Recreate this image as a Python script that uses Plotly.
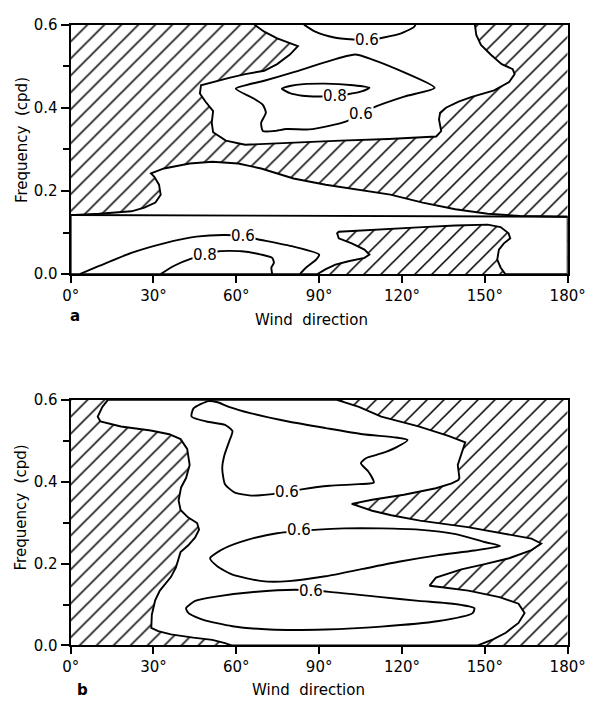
import plotly.graph_objects as go

# ---------------- data: (wind direction [deg], frequency [cpd]) ----------------
X_TICKS = [0, 30, 60, 90, 120, 150, 180]
X_TICKTEXT = ["0°", "30°", "60°", "90°", "120°", "150°", "180°"]
Y_TICKS = [0.0, 0.2, 0.4, 0.6]
Y_TICKTEXT = ["0.0", "0.2", "0.4", "0.6"]
Y_MINOR = [0.1, 0.3, 0.5]

# Panel a: non-hatched (coherent) regions
A_WHITE_UPPER = [(66.5, 0.6), (70.1, 0.583), (74.8, 0.567), (79.4, 0.555), (82.3, 0.548), (79.4, 0.528),
                 (74.8, 0.505), (70.1, 0.489), (63.2, 0.481), (57.4, 0.472), (51.6, 0.462), (47.2, 0.454),
                 (46.8, 0.434), (48.8, 0.415), (51.6, 0.392), (51.1, 0.364), (51.6, 0.341), (56.2, 0.321),
                 (63.2, 0.311), (70.1, 0.313), (80.5, 0.317), (97.8, 0.321), (115.1, 0.325), (132.4, 0.331),
                 (134.2, 0.344), (133.4, 0.372), (133.8, 0.388), (135.9, 0.4), (140.5, 0.415), (145.3, 0.426),
                 (153.4, 0.442), (158.8, 0.462), (160.8, 0.481), (160.1, 0.493), (156.1, 0.505), (152.1, 0.528),
                 (148.6, 0.551), (146.9, 0.575), (146.4, 0.6)]
A_WHITE_LOWER = [(0, 0), (0, 0.142), (10.3, 0.145), (22, 0.151), (26.7, 0.16), (30.7, 0.172), (32.6, 0.191),
                 (32, 0.215), (30.3, 0.234), (29.1, 0.242), (33.8, 0.254), (43.1, 0.266), (51.3, 0.27),
                 (60.7, 0.266), (69, 0.254), (80.7, 0.23), (92.4, 0.215), (104.1, 0.203), (115.8, 0.191),
                 (127.5, 0.172), (139.3, 0.156), (151, 0.145), (162.7, 0.140), (180, 0.138), (180, 0),
                 (157.4, 0), (155.7, 0.016), (154.5, 0.035), (155.1, 0.059), (156.9, 0.074), (159.2, 0.086),
                 (158.6, 0.098), (155.7, 0.113), (151, 0.119), (139.3, 0.117), (127.5, 0.113), (115.8, 0.109),
                 (104.1, 0.104), (97.1, 0.102), (96.5, 0.098), (97.1, 0.086), (101.8, 0.074), (106.4, 0.059),
                 (108.2, 0.047), (106.4, 0.039), (100.6, 0.031), (95.9, 0.023), (92.4, 0.012), (89.4, 0), (0, 0)]
A_BASELINE = [(0, 0.142), (180, 0.138)]
A_C06_TOP = [(84.5, 0.6), (88.6, 0.583), (95.5, 0.569), (102.4, 0.564), (107.5, 0.562), (113.4, 0.569),
             (119.7, 0.579), (124.3, 0.594), (124.9, 0.6)]
A_C06_MID = [(59.8, 0.446), (70.1, 0.465), (80.5, 0.485), (92, 0.509), (103, 0.528), (109.3, 0.516),
             (120.8, 0.485), (131.8, 0.448), (120.8, 0.427), (109.3, 0.4), (104.5, 0.384), (100.1, 0.368),
             (93.2, 0.356), (86.3, 0.348), (78.2, 0.349), (73.6, 0.344), (69.6, 0.344), (69, 0.364),
             (70.7, 0.388), (69.6, 0.407), (66.1, 0.423), (59.8, 0.446)]
A_C08_MID = [(76.5, 0.446), (81.7, 0.455), (92, 0.458), (102.4, 0.454), (108.2, 0.448), (104.7, 0.438),
             (96, 0.428), (89.7, 0.427), (83.9, 0.429), (79.4, 0.435), (76.5, 0.446)]
A_C06_LOW = [(3.3, 0), (10.3, 0.0195), (22, 0.051), (33.8, 0.074), (45.5, 0.090), (56, 0.094), (62, 0.091),
             (69, 0.082), (80.7, 0.066), (90, 0.047), (88.9, 0.035), (85.3, 0.016), (83, 0)]
A_C08_LOW = [(32.6, 0), (37.3, 0.0195), (43.7, 0.037), (48.8, 0.046), (53.7, 0.055), (61.9, 0.055),
             (69, 0.047), (73, 0.039), (73.6, 0.027), (72.7, 0.016), (73, 0)]
A_LABELS = [("0.6", 107.4, 0.562), ("0.8", 95.9, 0.428), ("0.6", 105.3, 0.384),
            ("0.6", 62.3, 0.091), ("0.8", 48.8, 0.045)]

# Panel b
B_WHITE = [(13.5, 0.6), (11.5, 0.583), (9.8, 0.559), (10.8, 0.547), (18.2, 0.535), (29.0, 0.525), (35.7, 0.516),
           (39.8, 0.504), (42.2, 0.480), (43.1, 0.441), (41.8, 0.409), (40.0, 0.386), (39.1, 0.354),
           (39.8, 0.331), (42.5, 0.313), (45.8, 0.299), (46.5, 0.283), (45.1, 0.264), (42.5, 0.244),
           (39.8, 0.228), (38.1, 0.19), (36.3, 0.167), (32.3, 0.134), (30.6, 0.110), (29.4, 0.075),
           (29.2, 0.043), (31.7, 0.035), (36.3, 0.027), (44.4, 0.019), (51.3, 0.0135), (55.9, 0.0055),
           (58.3, 0), (147.4, 0), (153, 0.015), (157.6, 0.031), (162.2, 0.055), (164.4, 0.079), (162.2, 0.102),
           (155.3, 0.118), (144, 0.134), (134.5, 0.142), (130, 0.146), (132.3, 0.166), (141.5, 0.186),
           (149.6, 0.198), (158.8, 0.213), (166.9, 0.233), (170.4, 0.249), (166.9, 0.261), (157.6, 0.273),
           (143.8, 0.289), (126.5, 0.305), (116.1, 0.318), (109.2, 0.329), (101.8, 0.346), (109.2, 0.356),
           (120.7, 0.368), (132.3, 0.384), (138, 0.396), (140.4, 0.404), (140.8, 0.409), (140.2, 0.441),
           (141.5, 0.465), (142.9, 0.496), (136.8, 0.512), (126, 0.535), (112.5, 0.559), (104.4, 0.583),
           (96.4, 0.6), (13.5, 0.6)]
B_C06_UPPER = [(49.9, 0.597), (44.5, 0.579), (43.8, 0.559), (49.2, 0.547), (55.9, 0.539), (58.6, 0.524),
               (57.5, 0.5), (55.7, 0.465), (54.9, 0.433), (55.9, 0.394), (59.3, 0.374), (65.4, 0.366),
               (72.1, 0.369), (78.2, 0.375), (84.2, 0.382), (93.7, 0.39), (104.4, 0.394), (109.8, 0.398),
               (107.8, 0.425), (105.1, 0.445), (107.1, 0.458), (112.5, 0.469), (117.9, 0.484), (122, 0.502),
               (117.9, 0.508), (105.8, 0.516), (92.3, 0.531), (78.8, 0.547), (65.4, 0.567), (57.3, 0.583),
               (53.2, 0.594), (49.9, 0.597)]
B_C06_MIDDLE = [(50.5, 0.213), (55.9, 0.238), (64, 0.258), (74.8, 0.274), (89.6, 0.283), (99.1, 0.286),
                (112.5, 0.286), (126, 0.283), (139.5, 0.272), (150.3, 0.252), (155.5, 0.243), (146.2, 0.232),
                (132.7, 0.22), (119.3, 0.205), (105.8, 0.187), (92.3, 0.169), (78.8, 0.157), (69.4, 0.157),
                (58.6, 0.173), (53.2, 0.193), (50.5, 0.213)]
B_C06_LOWER = [(41.8, 0.091), (45.1, 0.109), (53.2, 0.12), (65.4, 0.13), (81.5, 0.136), (93.7, 0.131),
               (112.5, 0.118), (126, 0.109), (139.5, 0.101), (146.2, 0.091), (145.6, 0.079), (132.7, 0.059),
               (112.5, 0.046), (92.3, 0.039), (72.1, 0.039), (58.6, 0.047), (47.8, 0.063), (42.7, 0.079),
               (41.8, 0.091)]
B_LABELS = [("0.6", 78.2, 0.374), ("0.6", 82.6, 0.281), ("0.6", 87.2, 0.134)]

FULL_BOX = [(0, 0), (180, 0), (180, 0.6), (0, 0.6), (0, 0)]

# ---------------- figure ----------------
W, H = 611, 710
FONT = "DejaVu Sans"
LINE_W = 1.9

fig = go.Figure()


def xs(pts):
    return [p[0] for p in pts]


def ys(pts):
    return [p[1] for p in pts]


def add_hatch(xa, ya):
    fig.add_trace(go.Scatter(x=xs(FULL_BOX), y=ys(FULL_BOX), xaxis=xa, yaxis=ya, mode="lines",
                             line=dict(width=0, color="rgba(0,0,0,0)"), fill="toself",
                             fillcolor="white",
                             fillpattern=dict(shape="/", size=12, solidity=0.13, fgcolor="black",
                                              bgcolor="white", fillmode="replace"),
                             hoverinfo="skip", showlegend=False))


def add_white(pts, xa, ya):
    fig.add_trace(go.Scatter(x=xs(pts), y=ys(pts), xaxis=xa, yaxis=ya, mode="lines",
                             line=dict(width=LINE_W, color="black"), fill="toself", fillcolor="white",
                             hoverinfo="skip", showlegend=False))


def add_line(pts, xa, ya):
    fig.add_trace(go.Scatter(x=xs(pts), y=ys(pts), xaxis=xa, yaxis=ya, mode="lines",
                             line=dict(width=LINE_W, color="black", shape="spline", smoothing=0.6),
                             hoverinfo="skip", showlegend=False))


# panel a
add_hatch("x", "y")
add_white(A_WHITE_UPPER, "x", "y")
add_white(A_WHITE_LOWER, "x", "y")
for c in [A_BASELINE, A_C06_TOP, A_C06_MID, A_C08_MID, A_C06_LOW, A_C08_LOW]:
    add_line(c, "x", "y")

# panel b
add_hatch("x2", "y2")
add_white(B_WHITE, "x2", "y2")
for c in [B_C06_UPPER, B_C06_MIDDLE, B_C06_LOWER]:
    add_line(c, "x2", "y2")

label_font = dict(family=FONT, size=15, color="black")
annotations = []
for txt, xv, yv in A_LABELS:
    annotations.append(dict(text=txt, x=xv, y=yv, xref="x", yref="y", showarrow=False,
                            xanchor="center", yanchor="middle",
                            bgcolor="white", borderpad=0, font=label_font))
for txt, xv, yv in B_LABELS:
    annotations.append(dict(text=txt, x=xv, y=yv, xref="x2", yref="y2", showarrow=False,
                            xanchor="center", yanchor="middle",
                            bgcolor="white", borderpad=0, font=label_font))

title_font = dict(family=FONT, size=15, color="black")


def paper_text(txt, px, py, angle=0, font=title_font):
    return dict(text=txt, x=px / W, y=1 - py / H, xref="paper", yref="paper", showarrow=False,
                xanchor="center", yanchor="middle", textangle=angle, font=font)


annotations += [
    paper_text("Frequency  (cpd)", 13, 134, angle=-90),
    paper_text("Frequency  (cpd)", 13, 511, angle=-90),
    paper_text("Wind  direction", 316, 319),
    paper_text("Wind  direction", 313, 699),
    paper_text("<b>a</b>", 69, 315),
    paper_text("<b>b</b>", 77, 699),
]

tick_font = dict(family=FONT, size=15, color="black")
x_common = dict(range=[0, 180], showgrid=False, zeroline=False, showline=True, linecolor="black",
                linewidth=2, mirror=True, ticks="outside", ticklen=7, tickwidth=1.5, tickcolor="black",
                tickvals=X_TICKS, ticktext=X_TICKTEXT, tickfont=tick_font,
                domain=[64.5 / W, 584.5 / W])
y_common = dict(range=[0, 0.6], showgrid=False, zeroline=False, showline=True, linecolor="black",
                linewidth=2, mirror=True, ticks="outside", ticklen=8, tickwidth=1.5, tickcolor="black",
                tickvals=Y_TICKS, ticktext=Y_TICKTEXT, tickfont=tick_font,
                minor=dict(tickvals=Y_MINOR, ticks="outside", ticklen=6, tickwidth=1.5,
                           tickcolor="black", showgrid=False))

fig.update_layout(
    width=W, height=H, margin=dict(l=0, r=0, t=0, b=0),
    paper_bgcolor="white", plot_bgcolor="white", showlegend=False,
    xaxis=dict(**x_common, anchor="y"),
    yaxis=dict(**y_common, anchor="x", domain=[1 - 272 / H, 1 - 16 / H]),
    xaxis2=dict(**x_common, anchor="y2"),
    yaxis2=dict(**y_common, anchor="x2", domain=[1 - 653 / H, 1 - 401 / H]),
    annotations=annotations,
)

fig.write_html("out.html")
